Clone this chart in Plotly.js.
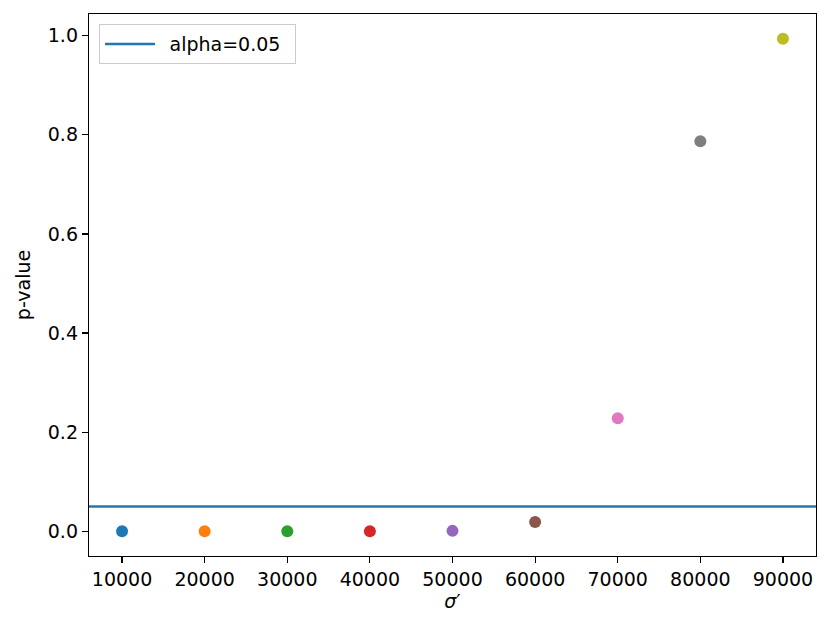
<!DOCTYPE html>
<html>
<head>
<meta charset="utf-8">
<script src="https://cdn.plot.ly/plotly-3.0.1.min.js"></script>
<style>html,body{margin:0;padding:0;background:#fff;}#chart{width:831px;height:633px;}</style>
</head>
<body>
<div id="chart"></div>
<script>
var sigmaPrime = [10000, 20000, 30000, 40000, 50000, 60000, 70000, 80000, 90000];
var pValues = [0.0, 0.0, 0.0, 0.0, 0.001, 0.019, 0.228, 0.787, 0.994];
var pointColors = ['#1f77b4', '#ff7f0e', '#2ca02c', '#d62728', '#9467bd', '#8c564b', '#e377c2', '#7f7f7f', '#bcbd22'];
var alpha = 0.05;
var xTicks = [10000, 20000, 30000, 40000, 50000, 60000, 70000, 80000, 90000];
var yTicks = [0.0, 0.2, 0.4, 0.6, 0.8, 1.0];
var yTickText = ['0.0', '0.2', '0.4', '0.6', '0.8', '1.0'];

var font = {family: 'DejaVu Sans', size: 19, color: '#000'};

var traces = [{
  type: 'scatter', mode: 'markers',
  x: sigmaPrime, y: pValues,
  marker: {color: pointColors, size: 12, line: {width: 0}},
  showlegend: false, hoverinfo: 'x+y'
}];

var xmin = 6000, xmax = 94000;
var ymin = -0.0497, ymax = 1.0437;

var layout = {
  width: 831, height: 633,
  margin: {l: 89, r: 15, t: 14, b: 77},
  paper_bgcolor: '#fff', plot_bgcolor: '#fff',
  font: font,
  showlegend: true,
  legend: {
    x: 0.0138, y: 0.9815, xanchor: 'left', yanchor: 'top',
    bgcolor: 'rgba(255,255,255,0.8)', bordercolor: '#cccccc', borderwidth: 1,
    font: font, itemwidth: 50
  },
  xaxis: {
    range: [xmin, xmax], tickvals: xTicks, ticktext: xTicks.map(String),
    showgrid: false, zeroline: false,
    showline: true, mirror: true, linecolor: '#000', linewidth: 1.2,
    ticks: 'outside', ticklen: 6, tickwidth: 1.2, tickcolor: '#000',
    tickfont: font,
    title: {text: '<i>σ</i>′', font: font, standoff: 4}
  },
  yaxis: {
    range: [ymin, ymax], tickvals: yTicks, ticktext: yTickText,
    showgrid: false, zeroline: false,
    showline: true, mirror: true, linecolor: '#000', linewidth: 1.2,
    ticks: 'outside', ticklen: 6, tickwidth: 1.2, tickcolor: '#000',
    tickfont: font,
    title: {text: 'p-value', font: font, standoff: 12}
  },
  shapes: [{
    type: 'line', xref: 'paper', yref: 'y',
    x0: 0, x1: 1, y0: alpha, y1: alpha,
    line: {color: '#1f77b4', width: 2.5},
    showlegend: true, name: '\u2002alpha=0.05\u2002'
  }]
};

Plotly.newPlot('chart', traces, layout, {displayModeBar: false, staticPlot: true});
</script>
</body>
</html>
